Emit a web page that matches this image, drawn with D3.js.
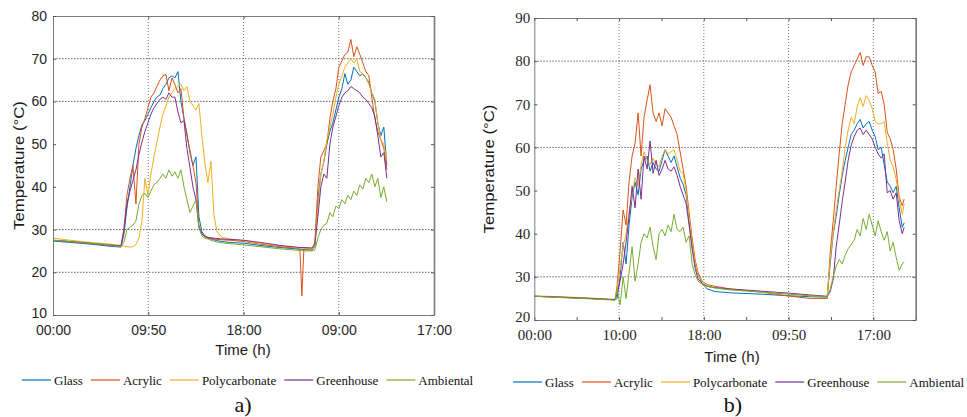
<!DOCTYPE html>
<html>
<head>
<meta charset="utf-8">
<script src="https://cdn.jsdelivr.net/npm/d3@7"></script>
<style>
  body { margin: 0; background: #fff; }
  svg { display: block; }
</style>
</head>
<body>
<script>
// series shared by both panels
var seriesNames = ["Glass", "Acrylic", "Polycarbonate", "Greenhouse", "Ambiental"];
var seriesColors = ["#0072BD", "#D95319", "#EDB120", "#7E2F8E", "#77AC30"];

// ---- panel a) ----
var aTickLabels = ["00:00", "09:50", "18:00", "09:00", "17:00"];
var aTime = [0, 0.178, 0.388, 0.598, 0.714,
  0.745, 0.776, 0.808, 0.839, 0.871, 0.902, 0.934, 0.965, 0.997, 1.028, 1.060, 1.091, 1.123, 1.154, 1.186, 1.217,
  1.249, 1.280, 1.312, 1.343, 1.375, 1.406, 1.438, 1.469, 1.501, 1.532, 1.563, 1.595, 1.626, 1.658, 1.689, 1.721,
  1.773, 1.857, 2.004, 2.172, 2.382, 2.592, 2.613, 2.634, 2.718,
  2.749, 2.781, 2.812, 2.844, 2.875, 2.907, 2.938, 2.970, 3.001, 3.033, 3.064, 3.095, 3.127, 3.158, 3.190, 3.221,
  3.253, 3.284, 3.316, 3.347, 3.379, 3.410, 3.442, 3.473, 3.505];
var aGlass = [27.3, 27.0, 26.6, 26.1, 25.9,
  29, 35, 40, 45, 49, 52, 54.5, 55.5, 57, 58.5, 60, 61, 61.5, 63, 64, 65.5,
  66, 65.5, 67, 60, 56, 52.5, 48, 45, 47, 33, 29.5, 28.5, 28, 27.8, 27.6, 27.4,
  27.2, 27.0, 26.8, 26.3, 25.8, 25.4, 25.4, 25.3, 25.2,
  26, 37, 43, 46, 50, 53, 55, 58, 61, 63, 66.5, 64, 65, 68, 67, 66,
  66.5, 65.5, 64.5, 62, 60, 55, 52, 54, 45];
var aAcrylic = [27.5, 27.2, 26.8, 26.3, 26.1,
  30, 38, 42, 45, 36, 50, 54, 56, 58.5, 61, 62, 63.5, 65, 66, 66.3, 62.5,
  65.5, 64, 62, 63, 56, 52, 48.5, 45, 41, 31, 29, 28.3, 28, 27.9, 27.8, 27.7,
  27.6, 27.5, 27.2, 26.6, 26, 25.6, 14.5, 25.5, 25.4,
  27, 40, 47, 48.5, 50, 56, 60, 63, 68, 69.5, 71, 71.5, 74.5, 70.5, 72.8, 71,
  69, 67, 66, 61, 56, 53, 51, 49, 44];
var aPolycarbonate = [28, 27.5, 27, 26.6, 26.3,
  26.1, 26, 25.9, 26, 26.5, 28, 32, 42, 38, 43, 47, 50.5, 54, 57, 59, 61,
  62, 63, 63.5, 64, 62.5, 63.5, 60, 59, 58, 59.5, 52, 45.5, 41, 46, 33.5, 29.5,
  28.2, 27.8, 27.4, 26.8, 26.2, 25.7, 25.7, 25.6, 25.5,
  26, 35, 43, 46, 51, 54, 57, 61, 64, 66, 68, 69, 70, 69, 70, 67,
  66.5, 65.5, 64, 62, 60.5, 55, 51, 50, 46];
var aGreenhouse = [27.5, 27.2, 26.8, 26.4, 26.2,
  30, 36, 39, 41.5, 44, 47.5, 50.5, 53, 55, 57, 58.5, 59.5, 60.5, 61, 60.5, 62,
  61, 61, 57.5, 55, 55.5, 49, 44.5, 40, 37, 30.5, 29, 28.5, 28.2, 28.1, 28, 27.9,
  27.8, 27.7, 27.5, 27, 26.3, 25.8, 25.8, 25.8, 25.7,
  26.5, 33, 40, 43, 42, 50, 54, 56.5, 59, 61, 62, 62.5, 63.5, 63, 62.5, 62,
  61, 60.5, 59.5, 58.5, 56.5, 52, 47, 48, 42];
var aAmbiental = [27.5, 27.2, 26.8, 26.4, 26,
  27, 30, 30.5, 31, 32, 36, 38, 38.5, 37.5, 39, 40.5, 41, 42, 43, 42, 44,
  42.5, 43.5, 42, 44, 40, 37, 34, 35.5, 37, 30.5, 28.5, 28, 27.8, 27.5, 27.3, 27.1,
  26.9, 26.7, 26.4, 26, 25.5, 25.1, 25.1, 25, 25,
  25.2, 28, 30, 31, 31.5, 34, 33, 35.5, 35, 37, 36, 38, 37, 39, 38, 40.5,
  39.5, 42, 41, 43, 40, 42, 37.5, 40, 36.5];
var aYTicks = [10, 20, 30, 40, 50, 60, 70, 80];
var aHGrid = [20, 30, 60, 70];

// ---- panel b) ----
var bTickLabels = ["00:00", "10:00", "18:00", "09:50", "17:00"];
var bTime = [0, 0.303, 0.658, 0.953,
  0.977, 1.012, 1.048, 1.083, 1.118, 1.154, 1.189, 1.225, 1.260, 1.295, 1.331, 1.366, 1.401, 1.437,
  1.472, 1.508, 1.543, 1.578, 1.614, 1.649, 1.685, 1.720, 1.755, 1.791, 1.826, 1.862, 1.897, 1.932,
  1.980, 2.039, 2.133, 2.311, 2.665, 3.019, 3.255, 3.456,
  3.491, 3.527, 3.562, 3.597, 3.633, 3.668, 3.703, 3.739, 3.774, 3.810, 3.845, 3.880, 3.916,
  3.951, 3.987, 4.022, 4.057, 4.093, 4.128, 4.164, 4.199, 4.234, 4.270, 4.305, 4.341, 4.364];
var bGlass = [25.5, 25.3, 25, 24.7,
  25, 30, 38, 33, 42, 48.5, 52, 49, 55, 57, 58, 54.5, 56.5, 55,
  54.5, 57, 59.5, 58, 56.5, 58, 55.5, 53, 51.5, 49, 43, 37.5, 33, 30.5,
  28.5, 27.2, 26.6, 26.3, 26, 25.6, 25.4, 25.3,
  33, 40, 44, 49, 53.5, 57, 60, 63, 64, 65.5, 66.5, 64.5, 65.5,
  66, 64, 62.5, 59.5, 60, 56, 52, 51, 49.5, 51, 46, 41.5, 42.5];
var bAcrylic = [25.5, 25.3, 25, 24.7,
  28, 36, 45.5, 42, 52, 58, 61, 68, 58, 67, 71, 74.5, 68, 66,
  68, 65, 69, 68, 67, 65, 63, 59, 55, 51, 45, 39, 34, 31,
  29, 28.2, 27.8, 27.2, 26.5, 25.5, 25, 25,
  35.5, 43, 51, 58.5, 65.5, 70, 74.5, 77.5, 79, 80.5, 82, 79, 81,
  81, 79, 77.5, 72.5, 73, 70, 63.5, 62, 59.5, 55, 48.5, 46.5, 48];
var bPolycarbonate = [25.6, 25.4, 25.1, 24.8,
  27, 32, 37, 40, 45, 49, 53, 51, 56, 59, 57, 56, 57.5, 56,
  55.5, 58, 59.5, 58.5, 59, 59.5, 57, 54.5, 54, 50, 44, 38, 33.5, 30.5,
  29, 28, 27.5, 27, 26.5, 26, 25.6, 25.4,
  34, 40, 45.5, 50, 54.5, 60, 64, 67, 65.5, 69.5, 71.5, 69.5, 72,
  71, 69, 66, 65.5, 65.5, 66, 61, 57, 55.5, 52.5, 48, 44.5, 47];
var bGreenhouse = [25.5, 25.3, 25, 24.7,
  26, 29, 33, 38, 44, 51, 46, 55, 48, 58, 55, 61.5, 54, 57,
  53.5, 55, 57, 55, 54.5, 55.5, 53.5, 51, 49, 47, 42, 36.5, 32, 29.5,
  28.5, 27.8, 27.5, 27.2, 26.7, 26.2, 25.8, 25.5,
  26.5, 29.5, 37, 42, 47.5, 52, 57, 60.5, 62.5, 64, 64.5, 63, 64,
  63, 62, 60, 58.5, 57.5, 58.5, 49.5, 50, 48, 49.5, 43, 40, 41.5];
var bAmbiental = [25.5, 25.2, 24.9, 24.6,
  27, 23.5, 30, 25, 31, 37, 29, 33, 38, 40, 39, 41.5, 37, 34,
  40, 41, 39.5, 42, 40.5, 44.5, 41, 40.5, 41.5, 38, 39.5, 33, 30.5, 29,
  28.3, 27.8, 27.4, 27, 26.5, 26, 25.6, 25.4,
  27, 30, 32.5, 34, 33, 35, 36.5, 37.5, 38.5, 41, 39.5, 43.5, 41,
  44.5, 42, 39.5, 43, 40.5, 38.5, 40.5, 36, 38, 34.5, 31.5, 33, 33.5];
var bYTicks = [20, 30, 40, 50, 60, 70, 80, 90];
var bHGrid = [30, 60, 80];

var svg = d3.select("body").append("svg")
    .attr("width", 967).attr("height", 417);

function drawPanel(p) {
  var x = d3.scaleLinear().domain(p.xDomain).range([p.left, p.right]);
  var y = d3.scaleLinear().domain(p.yDomain).range([p.bottom, p.top]);
  var g = svg.append("g");

  // grid
  g.selectAll(".vgrid").data(p.vGrid).enter().append("line")
      .attr("x1", function(d) { return x(d); }).attr("x2", function(d) { return x(d); })
      .attr("y1", p.top).attr("y2", p.bottom)
      .attr("stroke", "#777").attr("stroke-dasharray", "1,2");
  g.selectAll(".hgrid").data(p.hGrid).enter().append("line")
      .attr("x1", p.left).attr("x2", p.right)
      .attr("y1", function(d) { return y(d); }).attr("y2", function(d) { return y(d); })
      .attr("stroke", "#666").attr("stroke-dasharray", "1.5,1.5");

  // data lines
  var line = d3.line()
      .x(function(d, i) { return x(p.time[i]); })
      .y(function(d) { return y(d); });
  p.series.forEach(function(s, k) {
    g.append("path").datum(s)
        .attr("d", line)
        .attr("fill", "none")
        .attr("stroke", seriesColors[k])
        .attr("stroke-width", 1)
        .attr("stroke-linejoin", "round");
  });

  // axes
  var font = p.tickFont;
  var bottom = g.append("g").attr("transform", "translate(0," + p.bottom + ")")
      .call(d3.axisBottom(x).tickValues(p.xTicks)
        .tickFormat(function(d) { return d % 1 === 0 ? p.tickLabels[d] : ""; })
        .tickSizeInner(-3).tickSizeOuter(0).tickPadding(p.xPad));
  var top = g.append("g").attr("transform", "translate(0," + p.top + ")")
      .call(d3.axisTop(x).tickValues(p.xTicks).tickFormat("")
        .tickSizeInner(-3).tickSizeOuter(0));
  var left = g.append("g").attr("transform", "translate(" + p.left + ",0)")
      .call(d3.axisLeft(y).tickValues(p.yTicks)
        .tickSizeInner(-3).tickSizeOuter(0).tickPadding(p.yPad));
  var right = g.append("g").attr("transform", "translate(" + p.right + ",0)")
      .call(d3.axisRight(y).tickValues(p.yTicks).tickFormat("")
        .tickSizeInner(-3).tickSizeOuter(0));
  [bottom, top, left, right].forEach(function(a) {
    a.select(".domain").attr("stroke", "#7a7a7a");
    a.selectAll(".tick line").attr("stroke", "#555");
    a.selectAll("text").attr("font-family", font).attr("font-size", p.tickSize).attr("fill", "#262626");
  });
  right.select(".domain").attr("stroke-width", 1.6);
  // lowest y label sits a touch higher so it clears the first time label
  left.selectAll(".tick text").filter(function(d) { return d === p.yDomain[0]; })
      .attr("dy", p.lowDy);

  // axis titles
  g.append("text")
      .attr("x", p.xTitleX).attr("y", p.xTitleY)
      .attr("text-anchor", "middle")
      .attr("font-family", "Liberation Sans, Arial, sans-serif").attr("font-size", 15)
      .attr("fill", "#1a1a1a")
      .text("Time (h)");
  g.append("text")
      .attr("transform", "translate(" + p.yTitleX + "," + ((p.top + p.bottom) / 2) + ") rotate(-90) scale(1.12,1)")
      .attr("text-anchor", "middle")
      .attr("font-family", "Liberation Sans, Arial, sans-serif").attr("font-size", 15)
      .attr("fill", "#1a1a1a")
      .text("Temperature (°C)");

  // legend
  var lx = p.legendX;
  seriesNames.forEach(function(name, k) {
    g.append("line")
        .attr("x1", lx).attr("x2", lx + 29)
        .attr("y1", p.legendY).attr("y2", p.legendY)
        .attr("stroke", seriesColors[k]).attr("stroke-width", 1.2);
    var t = g.append("text")
        .attr("x", lx + 32).attr("y", p.legendY + 5)
        .attr("font-family", "Liberation Serif, Times New Roman, serif").attr("font-size", 13)
        .attr("fill", "#111")
        .text(name);
    lx += 32 + t.node().getComputedTextLength() + 8;
  });

  // panel letter
  g.append("text")
      .attr("x", p.letterX).attr("y", 412)
      .attr("text-anchor", "middle")
      .attr("font-family", "Liberation Serif, Times New Roman, serif").attr("font-size", 22)
      .attr("fill", "#111")
      .text(p.letter);
}

drawPanel({
  left: 53, right: 434, top: 16, bottom: 315,
  xDomain: [0, 4], yDomain: [10, 80],
  xTicks: [0, 1, 2, 3, 4], tickLabels: aTickLabels, yTicks: aYTicks,
  vGrid: [1, 2, 3], hGrid: aHGrid,
  time: aTime, series: [aGlass, aAcrylic, aPolycarbonate, aGreenhouse, aAmbiental],
  tickFont: "Liberation Sans, Arial, sans-serif", tickSize: 14, xPad: 10, yPad: 6, lowDy: "0.2em",
  xTitleX: 243, xTitleY: 355, yTitleX: 24,
  legendX: 22, legendY: 380, letter: "a)", letterX: 243
});

drawPanel({
  left: 534.3, right: 915.7, top: 18, bottom: 320,
  xDomain: [0, 4.5], yDomain: [20, 90],
  xTicks: [0, 0.5, 1, 1.5, 2, 2.5, 3, 3.5, 4, 4.5], tickLabels: bTickLabels, yTicks: bYTicks,
  vGrid: [1, 2, 3, 4], hGrid: bHGrid,
  time: bTime, series: [bGlass, bAcrylic, bPolycarbonate, bGreenhouse, bAmbiental],
  tickFont: "Liberation Serif, Times New Roman, serif", tickSize: 15, xPad: 9, yPad: 4, lowDy: "0.12em",
  xTitleX: 732, xTitleY: 362, yTitleX: 494,
  legendX: 513, legendY: 382, letter: "b)", letterX: 733
});
</script>
</body>
</html>
